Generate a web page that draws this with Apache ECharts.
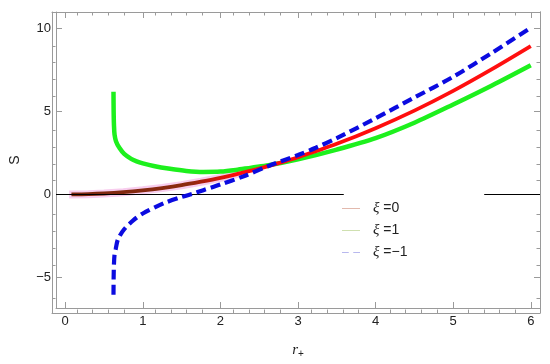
<!DOCTYPE html>
<html>
<head>
<meta charset="utf-8">
<script src="https://cdn.jsdelivr.net/npm/echarts@6/dist/echarts.min.js"></script>
<style>html,body{margin:0;padding:0;background:#fff}#c{width:550px;height:364px}</style>
</head>
<body>
<div id="c"></div>
<script>
// ---- data ----
var xi0 = [[0.08,0.0],[0.3,0.02],[0.5,0.06],[0.75,0.14],[1.0,0.25],[1.25,0.39],[1.5,0.56],[1.75,0.77],[2.0,1.0],[2.25,1.27],[2.5,1.56],[2.75,1.89],[3.0,2.25],[3.5,3.06],[4.0,4.0],[4.5,5.06],[5.0,6.25],[5.5,7.56],[6.0,8.95]];
var xi1 = [[0.622,6.2],[0.624,5.0],[0.628,4.2],[0.636,3.6],[0.655,3.2],[0.7,2.8],[0.76,2.45],[0.85,2.15],[0.92,2.0],[1.0,1.88],[1.14,1.72],[1.35,1.55],[1.56,1.42],[1.78,1.36],[2.0,1.38],[2.2,1.48],[2.4,1.62],[2.62,1.76],[3.0,2.12],[3.5,2.71],[4.0,3.4],[4.5,4.33],[5.0,5.43],[5.5,6.58],[6.0,7.8]];
var xiM1 = [[0.622,-6.05],[0.624,-5.0],[0.628,-4.2],[0.636,-3.6],[0.65,-3.3],[0.68,-2.7],[0.76,-2.1],[0.88,-1.55],[1.0,-1.15],[1.27,-0.53],[1.5,-0.15],[1.65,0.05],[1.78,0.26],[2.0,0.6],[2.3,1.1],[2.62,1.72],[3.0,2.38],[3.23,2.82],[3.5,3.4],[4.0,4.6],[4.5,5.85],[5.0,7.1],[5.5,8.55],[6.0,10.06]];
var pinkBand = [[0.05,0.0],[0.3,0.02],[0.5,0.06],[0.75,0.14],[1.0,0.25],[1.25,0.39],[1.5,0.56],[1.75,0.77],[2.0,1.0],[2.3,1.32]];
var zeroLineSegments = [[-0.119,3.59],[5.40,6.119]];
var legendNames = ['ξ =0','ξ =1','ξ =−1'];
var xMajor = [0,1,2,3,4,5,6];
var xMinor = [0.2,0.4,0.6,0.8,1.2,1.4,1.6,1.8,2.2,2.4,2.6,2.8,3.2,3.4,3.6,3.8,4.2,4.4,4.6,4.8,5.2,5.4,5.6,5.8];
var yMajor = [-5,0,5,10];
var yMinor = [-6,-4,-3,-2,-1,1,2,3,4,6,7,8,9,11];

var XMIN=-0.119, XMAX=6.119, YMIN=-6.85, YMAX=11.01;
var frame = '#9a9a9a';
var font = 'Liberation Sans, Arial, sans-serif';

function xAx(grid, pos, ticks, len, labels, name) {
  return {
    type:'value', gridIndex:grid, position:pos, min:XMIN, max:XMAX,
    axisLine:{show:true, onZero:false, lineStyle:{color:frame, width:1}},
    axisTick:{show:true, inside:true, length:len, customValues:ticks, lineStyle:{color:frame, width:1}},
    axisLabel:{show:labels, customValues:ticks, color:'#222', fontSize:13, fontFamily:font, margin:7},
    splitLine:{show:false},
    name: name || '', nameLocation:'middle', nameGap:33,
    nameTextStyle:{color:'#222', fontSize:14, fontFamily:font,
      rich:{i:{fontStyle:'italic', fontSize:15, fontFamily:'Liberation Serif, serif', color:'#222'},
            s:{fontSize:10, fontFamily:font, color:'#222', verticalAlign:'bottom', padding:[8,0,0,0]}}}
  };
}
function yAx(grid, pos, ticks, len, labels, name) {
  return {
    type:'value', gridIndex:grid, position:pos, min:YMIN, max:YMAX,
    axisLine:{show:true, onZero:false, lineStyle:{color:frame, width:1}},
    axisTick:{show:true, inside:true, length:len, customValues:ticks, lineStyle:{color:frame, width:1}},
    axisLabel:{show:labels, customValues:ticks, color:'#222', fontSize:13, fontFamily:font, margin:5,
      formatter:function(v){return v<0 ? '\u2212'+(-v) : ''+v;}},
    splitLine:{show:false},
    name: name || '', nameLocation:'middle', nameGap:34,
    nameTextStyle:{color:'#222', fontSize:14, fontFamily:font}
  };
}

var zeroData = zeroLineSegments.map(function(s){ return [{coord:[s[0],0]},{coord:[s[1],0]}]; });

var chart = echarts.init(document.getElementById('c'), null, {renderer:'canvas'});
chart.setOption({
  animation:false,
  backgroundColor:'#fff',
  grid:[
    {left:52, right:10, top:12, bottom:51, containLabel:false},
    {left:52, right:10, top:12, bottom:51, containLabel:false}
  ],
  xAxis:[
    xAx(0, 'bottom', xMajor, 6, true, '{i|r}{s|+}'),
    xAx(0, 'top', xMajor, 6, false),
    xAx(1, 'bottom', xMinor, 3.5, false),
    xAx(1, 'top', xMinor, 3.5, false)
  ],
  yAxis:[
    yAx(0, 'left', yMajor, 6, true, 'S'),
    yAx(0, 'right', yMajor, 6, false),
    yAx(1, 'left', yMinor, 3.5, false),
    yAx(1, 'right', yMinor, 3.5, false)
  ],
  legend:{
    orient:'vertical', left:340, top:194,
    padding:[7,76,6,2], backgroundColor:'rgba(255,255,255,0)',
    itemWidth:18, itemHeight:14, itemGap:7,
    selectedMode:false,
    textStyle:{fontSize:14, fontFamily:font, color:'#222', padding:[0,0,0,8],
      rich:{i:{fontStyle:'italic', fontSize:15, fontFamily:'Liberation Serif, serif', color:'#222'}}},
    formatter:function(n){ return '{i|ξ}' + n.slice(1); },
    data:[
      {name:legendNames[0], icon:'path://M0,0L18,0L18,1L0,1Z', itemStyle:{color:'#e2b9ad'}},
      {name:legendNames[1], icon:'path://M0,0L18,0L18,1L0,1Z', itemStyle:{color:'#cfe0b0'}},
      {name:legendNames[2], icon:'path://M0,0L6,0L6,1L0,1ZM10,0L16,0L16,1L10,1Z', itemStyle:{color:'#b8b8ee'}}
    ]
  },
  series:[
    {
      name:'band', type:'line', data:pinkBand, showSymbol:false, symbol:'none', z:1, silent:true,
      lineStyle:{color:'#f8cdee', width:8}, legendHoverLink:false,
      markLine:{silent:true, symbol:'none', label:{show:false}, animation:false,
        lineStyle:{color:'#000', width:1, type:'solid'}, emphasis:{disabled:true},
        data:zeroData}
    },
    {
      name:legendNames[1], type:'line', data:xi1, showSymbol:false, symbol:'none', smooth:0.3, z:3,
      lineStyle:{color:'#1df01d', width:4.5}, itemStyle:{color:'#1df01d'}
    },
    {
      name:legendNames[0], type:'line', data:xi0, showSymbol:false, symbol:'none', smooth:0.3, z:4,
      lineStyle:{width:3.8, color:new echarts.graphic.LinearGradient(0,0,1,0,[
        {offset:0, color:'#7a2810'},{offset:0.26, color:'#8c2a10'},{offset:0.36, color:'#ff0a0a'},{offset:1, color:'#ff1010'}])},
      itemStyle:{color:'#ff1010'}
    },
    {
      name:legendNames[2], type:'line', data:xiM1, showSymbol:false, symbol:'none', smooth:0.3, z:5,
      lineStyle:{color:'#0b0be0', width:4.2, type:[10,5]}, itemStyle:{color:'#0b0be0'}
    }
  ]
});
</script>
</body>
</html>
